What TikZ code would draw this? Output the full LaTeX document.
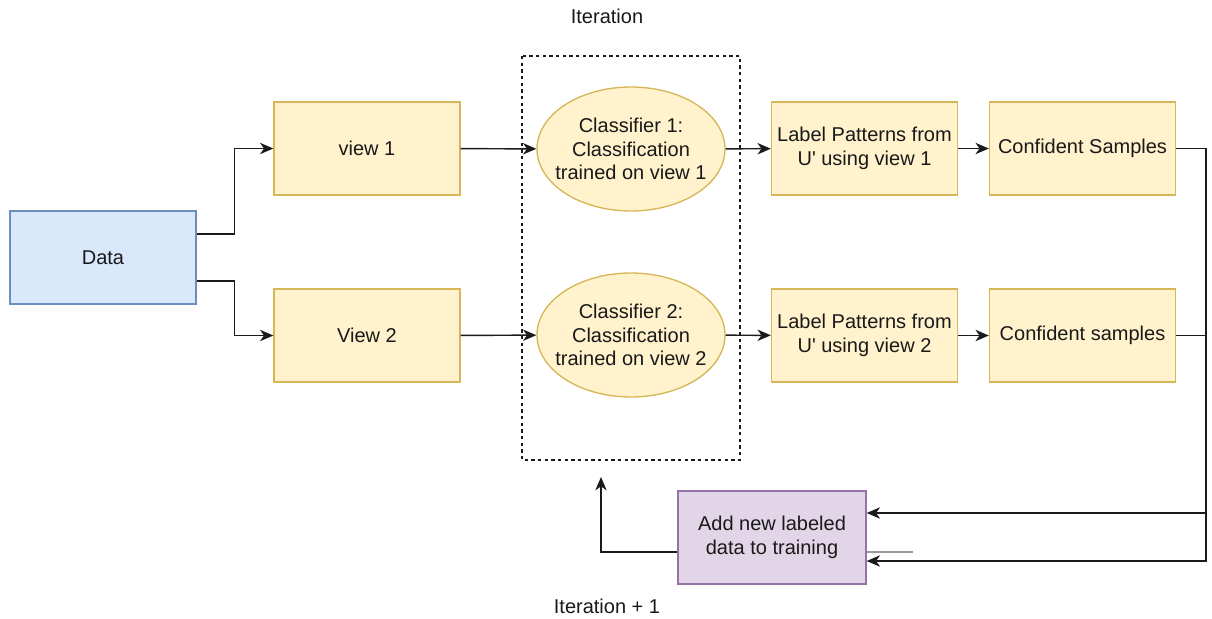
\documentclass[tikz,border=0pt]{standalone}
\usepackage{fontspec}
\setmainfont{Liberation Sans}
\usetikzlibrary{shapes.geometric,arrows.meta,calc}
\definecolor{yfill}{HTML}{FFF2CC}
\definecolor{ydraw}{HTML}{D6B656}
\definecolor{bfill}{HTML}{DAE8FC}
\definecolor{bdraw}{HTML}{6C8EBF}
\definecolor{pfill}{HTML}{E1D5E7}
\definecolor{pdraw}{HTML}{9673A6}
\definecolor{lnc}{HTML}{1A1A1A}
\tikzset{
  txt/.style={font=\fontsize{15}{17.6}\selectfont, align=center, text=black!90},
  ybox/.style={txt, draw=ydraw, fill=yfill, line width=1pt, minimum width=139.5pt, minimum height=69.75pt, inner sep=0pt},
  bbox/.style={txt, draw=bdraw, fill=bfill, line width=1pt, minimum width=139.5pt, minimum height=69.75pt, inner sep=0pt},
  pbox/.style={txt, draw=pdraw, fill=pfill, line width=1pt, minimum width=141pt, minimum height=69.75pt, inner sep=0pt},
  yell/.style={ellipse, draw=ydraw, fill=yfill, line width=1pt, minimum width=141pt, minimum height=93pt, inner sep=0pt},
  arr/.style={draw=lnc, line width=1.1pt, -{Stealth[length=10pt,width=8.5pt,inset=3pt]}},
}
\begin{document}
\begin{tikzpicture}[x=0.75pt,y=-0.75pt]
\useasboundingbox (0,0) rectangle (1212,618);
% dashed iteration frame
\draw[draw=lnc, line width=0.9pt, dash pattern=on 2.5pt off 2.5pt] (522,56) rectangle (740,460);
\node[txt] (iter) at (607,16) {Iteration};
\node[txt] (iter1) at (607,606) {Iteration + 1};

\node[bbox] (data) at (103,257.5) {Data};
\node[ybox] (v1) at (367,148.5) {view 1};
\node[ybox] (v2) at (367,335.5) {View 2};
\node[yell] (c1) at (631,149) {};
\node[txt] (c1t) at (c1) {Classifier 1:\\Classification\\trained on view 1};
\node[yell] (c2) at (631,335) {};
\node[txt] (c2t) at (c2) {Classifier 2:\\Classification\\trained on view 2};
\node[ybox] (lp1) at (864.5,148.5) {Label Patterns from\\U\textquotesingle{} using view 1};
\node[ybox] (lp2) at (864.5,335.5) {Label Patterns from\\U\textquotesingle{} using view 2};
\node[ybox] (cs1) at (1082.5,148.5) {Confident Samples};
\node[ybox] (cs2) at (1082.5,335.5) {Confident samples};
\node[pbox] (add) at (772,537.5) {Add new labeled\\data to training};
\coordinate (back) at (601,477);

\draw[arr] ($(data.east)+(0,-23.5)$) -| ($(v1.west)+(-39,0)$) -- (v1.west);
\draw[arr] ($(data.east)+(0,23.5)$) -| ($(v2.west)+(-39,0)$) -- (v2.west);
\draw[arr] (v1) -- (c1);
\draw[arr] (v2) -- (c2);
\draw[arr] (c1) -- (lp1);
\draw[arr] (c2) -- (lp2);
\draw[arr] (lp1) -- (cs1);
\draw[arr] (lp2) -- (cs2);
\draw[arr] (cs1.east) -- ++(30,0) |- ($(add.east)+(0,23.5)$);
\draw[arr] (cs2.east) -- ++(30,0) |- ($(add.east)+(0,-24.5)$);
\draw[draw=gray!80, line width=1.5pt] ($(add.east)+(0,14)$) -- ++(46,0);
\draw[arr] ($(add.west)+(0,14.5)$) -| (back);
\end{tikzpicture}
\end{document}
